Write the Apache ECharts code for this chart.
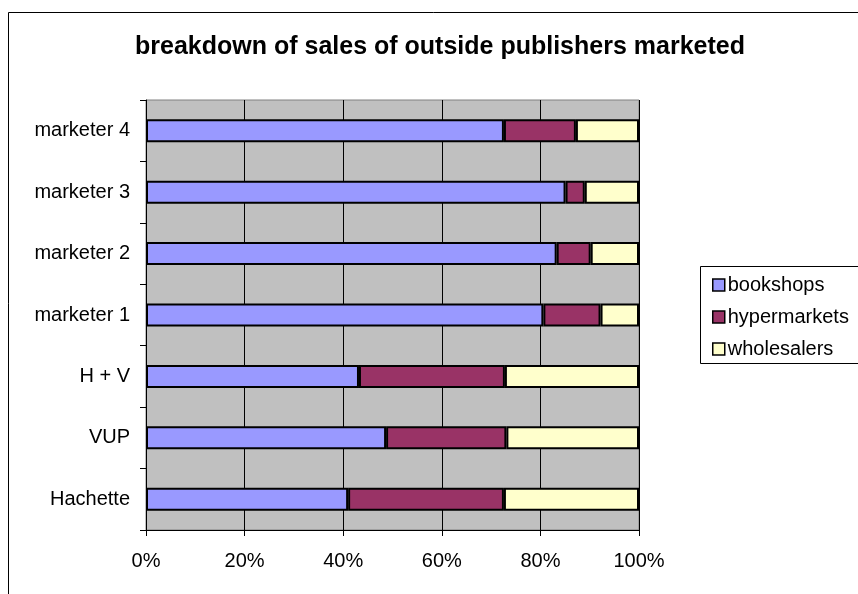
<!DOCTYPE html>
<html>
<head>
<meta charset="utf-8">
<script src="https://cdn.jsdelivr.net/npm/echarts@6/dist/echarts.min.js"></script>
<style>
  html, body { margin: 0; padding: 0; background: #fff; }
  #chart { width: 858px; height: 594px; }
</style>
</head>
<body>
<div id="chart"></div>
<script>
// bottom to top, as the category axis draws them
const categories = ["Hachette", "VUP", "H + V", "marketer 1", "marketer 2", "marketer 3", "marketer 4"];
const bookshops = [41.0, 48.7, 43.2, 80.6, 83.3, 85.1, 72.6];
const hypermarkets = [31.6, 24.4, 29.6, 11.6, 6.9, 3.9, 14.6];
const wholesalers = [27.4, 26.9, 27.2, 7.8, 9.8, 11.0, 12.8];
const xTicks = [0, 20, 40, 60, 80, 100];

const chart = echarts.init(document.getElementById("chart"));
const font = "Liberation Sans, Arial, sans-serif";

function barSeries(name, data, color) {
  return {
    name: name,
    type: "bar",
    stack: "total",
    data: data,
    barWidth: 23,
    itemStyle: { color: color, borderColor: "#000", borderWidth: 2 },
    animation: false,
  };
}

chart.setOption({
  animation: false,
  textStyle: { fontFamily: font },
  title: {
    text: "breakdown of sales of outside publishers marketed",
    left: 435,
    top: 30,
    textAlign: "center",
    textStyle: { fontFamily: font, fontSize: 25, fontWeight: "bold", color: "#000" },
  },
  graphic: [
    { type: "rect", shape: { x: 8.5, y: 12.5, width: 900, height: 700 }, style: { fill: null, stroke: "#000", lineWidth: 1 }, z: -1 },
    { type: "rect", shape: { x: 700.5, y: 266.5, width: 200, height: 97 }, style: { fill: "#fff", stroke: "#000", lineWidth: 1 }, z: 0 },
  ],
  legend: {
    orient: "vertical",
    left: 707,
    top: 270,
    itemWidth: 12,
    itemHeight: 12,
    itemGap: 12,
    icon: "rect",
    itemStyle: { borderColor: "#000", borderWidth: 1.5 },
    textStyle: { fontFamily: font, fontSize: 20, color: "#000", padding: [0, 0, 0, -2] },
    data: ["bookshops", "hypermarkets", "wholesalers"],
    z: 5,
  },
  grid: {
    left: 146,
    right: 219,
    top: 100,
    bottom: 64,
    show: true,
    backgroundColor: "#C0C0C0",
    borderColor: "#808080",
    borderWidth: 1,
  },
  xAxis: {
    type: "value",
    min: xTicks[0],
    max: xTicks[xTicks.length - 1],
    interval: 20,
    axisLine: { show: true, lineStyle: { color: "#000", width: 1 } },
    axisTick: { show: true, length: 6, lineStyle: { color: "#000" } },
    axisLabel: { formatter: "{value}%", fontSize: 20, color: "#000", margin: 21, fontFamily: font },
    splitLine: { show: true, lineStyle: { color: "#000", width: 1 } },
  },
  yAxis: {
    type: "category",
    data: categories,
    axisLine: { show: true, lineStyle: { color: "#000", width: 1 } },
    axisTick: { show: true, length: 6, lineStyle: { color: "#000" } },
    axisLabel: { fontSize: 20, color: "#000", margin: 16, fontFamily: font },
    splitLine: { show: false },
  },
  series: [
    barSeries("bookshops", bookshops, "#9999FF"),
    barSeries("hypermarkets", hypermarkets, "#993366"),
    barSeries("wholesalers", wholesalers, "#FFFFCC"),
  ],
});
</script>
</body>
</html>
